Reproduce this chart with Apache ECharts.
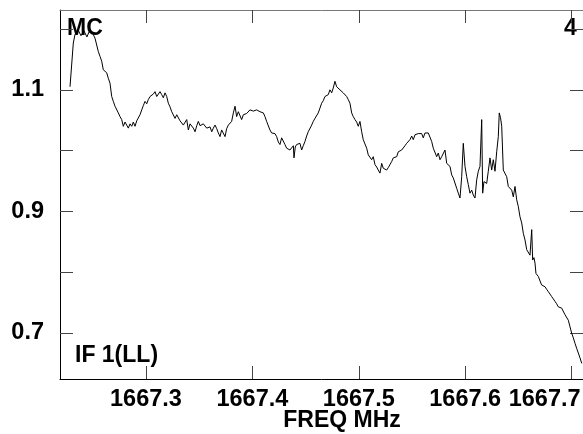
<!DOCTYPE html>
<html>
<head>
<meta charset="utf-8"/>
<title>IF 1(LL) spectrum</title>
<script src="https://cdn.jsdelivr.net/npm/echarts@6/dist/echarts.min.js"></script>
<style>
    html, body { margin: 0; padding: 0; background: #fff; }
    #chart { width: 583px; height: 434px; }
</style>
</head>
<body>
<div id="chart"></div>
<script>
    // spectrum channels (MHz) and normalised amplitude
    var freq = [
        1667.2286, 1667.2317, 1667.2333, 1667.2361, 1667.2389, 1667.2417, 1667.2445, 1667.2474, 1667.2502, 1667.2521,
        1667.2537, 1667.2552, 1667.2568, 1667.2584, 1667.2599, 1667.2631, 1667.2646, 1667.2662, 1667.2678, 1667.2693,
        1667.2709, 1667.2725, 1667.2740, 1667.2756, 1667.2772, 1667.2787, 1667.2803, 1667.2819, 1667.2834, 1667.2850,
        1667.2866, 1667.2881, 1667.2897, 1667.2913, 1667.2928, 1667.2944, 1667.2960, 1667.2975, 1667.2991, 1667.3007,
        1667.3022, 1667.3038, 1667.3054, 1667.3069, 1667.3085, 1667.3101, 1667.3116, 1667.3132, 1667.3148, 1667.3163,
        1667.3179, 1667.3195, 1667.3210, 1667.3226, 1667.3242, 1667.3257, 1667.3273, 1667.3289, 1667.3304, 1667.3320,
        1667.3336, 1667.3351, 1667.3367, 1667.3383, 1667.3398, 1667.3414, 1667.3430, 1667.3445, 1667.3461, 1667.3477,
        1667.3492, 1667.3508, 1667.3524, 1667.3539, 1667.3555, 1667.3571, 1667.3586, 1667.3602, 1667.3618, 1667.3633,
        1667.3649, 1667.3665, 1667.3680, 1667.3696, 1667.3711, 1667.3727, 1667.3743, 1667.3758, 1667.3774, 1667.3790,
        1667.3805, 1667.3821, 1667.3837, 1667.3852, 1667.3868, 1667.3884, 1667.3899, 1667.3915, 1667.3931, 1667.3946,
        1667.3962, 1667.3977, 1667.3993, 1667.4009, 1667.4024, 1667.4040, 1667.4056, 1667.4071, 1667.4087, 1667.4103,
        1667.4118, 1667.4134, 1667.4150, 1667.4165, 1667.4181, 1667.4197, 1667.4212, 1667.4228, 1667.4244, 1667.4259,
        1667.4275, 1667.4291, 1667.4306, 1667.4322, 1667.4338, 1667.4353, 1667.4369, 1667.4385, 1667.4391, 1667.4403,
        1667.4416, 1667.4431, 1667.4447, 1667.4463, 1667.4478, 1667.4494, 1667.4510, 1667.4525, 1667.4541, 1667.4557,
        1667.4572, 1667.4588, 1667.4604, 1667.4619, 1667.4635, 1667.4651, 1667.4666, 1667.4682, 1667.4698, 1667.4713,
        1667.4729, 1667.4745, 1667.4760, 1667.4776, 1667.4792, 1667.4807, 1667.4823, 1667.4839, 1667.4854, 1667.4870,
        1667.4886, 1667.4901, 1667.4917, 1667.4933, 1667.4948, 1667.4964, 1667.4980, 1667.4995, 1667.5011, 1667.5027,
        1667.5042, 1667.5058, 1667.5074, 1667.5089, 1667.5105, 1667.5121, 1667.5136, 1667.5152, 1667.5168, 1667.5183,
        1667.5199, 1667.5215, 1667.5230, 1667.5246, 1667.5262, 1667.5277, 1667.5293, 1667.5309, 1667.5324, 1667.5340,
        1667.5356, 1667.5371, 1667.5387, 1667.5403, 1667.5418, 1667.5434, 1667.5450, 1667.5465, 1667.5481, 1667.5497,
        1667.5512, 1667.5528, 1667.5544, 1667.5559, 1667.5575, 1667.5591, 1667.5606, 1667.5622, 1667.5638, 1667.5653,
        1667.5669, 1667.5685, 1667.5700, 1667.5716, 1667.5732, 1667.5747, 1667.5763, 1667.5779, 1667.5794, 1667.5810,
        1667.5826, 1667.5841, 1667.5857, 1667.5873, 1667.5888, 1667.5904, 1667.5920, 1667.5935, 1667.5951, 1667.5967,
        1667.5982, 1667.5998, 1667.6014, 1667.6029, 1667.6045, 1667.6061, 1667.6076, 1667.6092, 1667.6108, 1667.6123,
        1667.6139, 1667.6155, 1667.6164, 1667.6176, 1667.6189, 1667.6202, 1667.6217, 1667.6233, 1667.6249, 1667.6264,
        1667.6280, 1667.6296, 1667.6311, 1667.6320, 1667.6332, 1667.6343, 1667.6358, 1667.6374, 1667.6390, 1667.6405,
        1667.6421, 1667.6437, 1667.6452, 1667.6468, 1667.6484, 1667.6499, 1667.6515, 1667.6531, 1667.6546, 1667.6562,
        1667.6578, 1667.6593, 1667.6609, 1667.6625, 1667.6634, 1667.6646, 1667.6656, 1667.6665, 1667.6687, 1667.6703,
        1667.6718, 1667.6734, 1667.6750, 1667.6765, 1667.6781, 1667.6797, 1667.6812, 1667.6828, 1667.6844, 1667.6859,
        1667.6875, 1667.6891, 1667.6906, 1667.6922, 1667.6938, 1667.6953, 1667.6969, 1667.6985, 1667.7000, 1667.7016,
        1667.7032, 1667.7047, 1667.7063, 1667.7079, 1667.7095
    ];
    var amp = [
        1.105, 1.177, 1.191, 1.199, 1.189, 1.197, 1.187, 1.199, 1.192, 1.185,
        1.182, 1.163, 1.155, 1.147, 1.133, 1.128, 1.119, 1.111, 1.089, 1.081,
        1.073, 1.070, 1.062, 1.056, 1.051, 1.040, 1.047, 1.042, 1.037, 1.044,
        1.040, 1.047, 1.040, 1.049, 1.051, 1.059, 1.067, 1.074, 1.081, 1.077,
        1.084, 1.089, 1.086, 1.093, 1.097, 1.089, 1.089, 1.097, 1.092, 1.087,
        1.095, 1.089, 1.078, 1.072, 1.064, 1.061, 1.053, 1.059, 1.056, 1.049,
        1.051, 1.042, 1.045, 1.051, 1.034, 1.044, 1.042, 1.037, 1.031, 1.041,
        1.048, 1.041, 1.040, 1.044, 1.042, 1.037, 1.034, 1.039, 1.031, 1.037,
        1.042, 1.036, 1.029, 1.023, 1.034, 1.037, 1.023, 1.036, 1.042, 1.044,
        1.048, 1.062, 1.073, 1.056, 1.064, 1.062, 1.051, 1.059, 1.062, 1.061,
        1.064, 1.067, 1.070, 1.065, 1.064, 1.067, 1.067, 1.064, 1.062, 1.062,
        1.056, 1.048, 1.047, 1.034, 1.029, 1.026, 1.028, 1.023, 1.014, 1.010,
        1.021, 1.018, 1.010, 1.004, 1.006, 1.001, 0.998, 1.008, 0.988, 1.006,
        1.010, 1.008, 1.012, 1.001, 1.008, 1.015, 1.024, 1.031, 1.034, 1.042,
        1.048, 1.053, 1.056, 1.062, 1.070, 1.078, 1.082, 1.089, 1.087, 1.092,
        1.100, 1.095, 1.103, 1.114, 1.105, 1.107, 1.100, 1.098, 1.095, 1.093,
        1.089, 1.084, 1.078, 1.062, 1.056, 1.051, 1.047, 1.040, 1.048, 1.031,
        1.018, 1.011, 1.004, 0.993, 0.990, 0.985, 0.990, 0.977, 0.973, 0.968,
        0.963, 0.979, 0.971, 0.974, 0.968, 0.972, 0.974, 0.982, 0.988, 0.985,
        0.990, 0.998, 0.996, 1.001, 1.001, 1.008, 1.012, 1.011, 1.018, 1.024,
        1.018, 1.026, 1.023, 1.028, 1.031, 1.028, 1.021, 1.029, 1.026, 1.029,
        1.031, 1.015, 1.004, 1.004, 0.990, 0.996, 0.985, 0.990, 0.988, 1.001,
        0.979, 0.977, 0.974, 0.960, 0.955, 0.952, 0.938, 0.930, 0.922, 0.957,
        1.012, 0.974, 0.957, 0.944, 0.930, 0.935, 0.927, 0.922, 0.952, 0.966,
        0.974, 1.051, 0.930, 0.949, 0.952, 0.946, 0.966, 0.988, 0.968, 0.985,
        0.966, 0.998, 1.023, 1.062, 1.054, 1.040, 0.968, 0.966, 0.957, 0.941,
        0.941, 0.935, 0.924, 0.941, 0.919, 0.908, 0.891, 0.881, 0.864, 0.853,
        0.837, 0.837, 0.828, 0.870, 0.820, 0.824, 0.815, 0.798, 0.793, 0.790,
        0.779, 0.781, 0.776, 0.772, 0.768, 0.764, 0.760, 0.756, 0.752, 0.748,
        0.743, 0.744, 0.741, 0.743, 0.730, 0.727, 0.721, 0.710, 0.700, 0.692,
        0.683, 0.675, 0.667, 0.659, 0.650
    ];
    var xTicks = [1667.3, 1667.4, 1667.5, 1667.6, 1667.7];
    var yTicks = [0.7, 0.8, 0.9, 1.0, 1.1, 1.2];
    var yLabels = [0.7, 0.9, 1.1];

    var chart = echarts.init(document.getElementById('chart'));
    var points = [];
    for (var i = 0; i < freq.length; i++) {
        points.push([freq[i], amp[i]]);
    }

    var font = 'Liberation Sans, Arial, Helvetica, sans-serif';
    var tickStyle = { color: '#444', width: 1 };

    var option = {
        backgroundColor: '#fff',
        animation: false,
        grid: { left: 60, top: 10, right: 0, bottom: 55, outerBoundsMode: 'none', containLabel: false },
        xAxis: [
            {
                type: 'value', position: 'bottom',
                min: 1667.2192, max: 1667.7107,
                axisLine: { lineStyle: { color: '#000', width: 1 } },
                axisTick: { inside: true, length: 13, customValues: xTicks, lineStyle: tickStyle },
                axisLabel: {
                    customValues: xTicks, margin: 9, hideOverlap: false,
                    color: '#000', fontFamily: font, fontWeight: 'bold', fontSize: 23.5,
                    formatter: function (v) {
                        // last label is pushed left so it stays inside the frame
                        if (v === xTicks[xTicks.length - 1]) return '{r|' + v.toFixed(1) + '}';
                        return v.toFixed(1);
                    },
                    rich: {
                        r: { fontFamily: font, fontWeight: 'bold', fontSize: 23.5, color: '#000', padding: [0, 54, 0, 0] }
                    }
                },
                splitLine: { show: false }
            },
            {
                type: 'value', position: 'top',
                min: 1667.2192, max: 1667.7107,
                axisLine: { lineStyle: { color: '#777', width: 1 } },
                axisTick: { inside: true, length: 13, customValues: xTicks, lineStyle: tickStyle },
                axisLabel: { show: false },
                splitLine: { show: false }
            }
        ],
        yAxis: [
            {
                type: 'value', position: 'left',
                min: 0.6243, max: 1.2313,
                axisLine: { show: true, lineStyle: { color: '#000', width: 1 } },
                axisTick: { show: true, inside: true, length: 13, customValues: yTicks, lineStyle: tickStyle },
                axisLabel: {
                    customValues: yLabels, margin: 16,
                    color: '#000', fontFamily: font, fontWeight: 'bold', fontSize: 23.5,
                    formatter: function (v) { return v.toFixed(1); }
                },
                splitLine: { show: false }
            },
            {
                type: 'value', position: 'right',
                min: 0.6243, max: 1.2313,
                axisLine: { show: false },
                axisTick: { show: true, inside: true, length: 13, customValues: yTicks, lineStyle: tickStyle },
                axisLabel: { show: false },
                splitLine: { show: false }
            }
        ],
        graphic: [
            { type: 'text', left: 67, top: 17, style: { text: 'MC', fill: '#000', font: 'bold 23px ' + font } },
            { type: 'text', left: 564, top: 17, style: { text: '4', fill: '#000', font: 'bold 23px ' + font } },
            { type: 'text', left: 75, top: 344, style: { text: 'IF 1(LL)', fill: '#000', font: 'bold 23px ' + font } },
            { type: 'text', x: 342, y: 421, style: { text: 'FREQ MHz', fill: '#000', font: 'bold 23px ' + font, textAlign: 'center', textVerticalAlign: 'middle' } }
        ],
        series: [
            {
                type: 'line',
                xAxisIndex: 0, yAxisIndex: 0,
                data: points,
                showSymbol: false,
                lineStyle: { color: '#000', width: 1 },
                clip: true
            }
        ]
    };

    chart.setOption(option);
</script>
</body>
</html>
